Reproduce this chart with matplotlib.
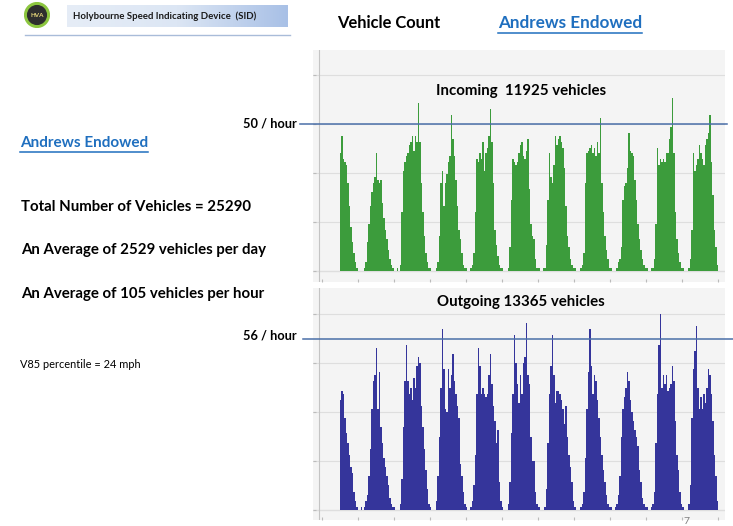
import matplotlib
matplotlib.use("Agg")
import matplotlib.pyplot as plt
from matplotlib.lines import Line2D
from matplotlib.patches import Circle
from matplotlib.colors import LinearSegmentedColormap
import numpy as np

# hourly vehicle counts (day 0 starts at 12:00)
first_hour = 12

incoming_day0 = [40, 46, 38, 37, 36, 30, 22, 15, 10, 6, 3, 1]
incoming_day1 = [0, 0, 0, 0, 1, 3, 10, 16, 22, 27, 30, 32, 40, 31, 30, 31, 23, 18, 14, 11, 7, 4, 2, 1]
incoming_day2 = [0, 0, 1, 0, 2, 20, 34, 37, 39, 40, 43, 44, 46, 41, 46, 44, 57, 44, 30, 20, 12, 6, 3, 1]
incoming_day3 = [1, 0, 0, 0, 1, 3, 12, 30, 34, 22, 30, 33, 37, 39, 53, 45, 39, 31, 22, 14, 11, 6, 2, 1]
incoming_day4 = [1, 0, 0, 1, 2, 6, 20, 38, 37, 40, 38, 44, 34, 40, 42, 46, 55, 44, 30, 14, 9, 5, 2, 1]
incoming_day5 = [1, 0, 0, 0, 1, 8, 24, 38, 37, 36, 37, 40, 43, 44, 39, 38, 41, 45, 28, 16, 12, 11, 4, 1]
incoming_day6 = [1, 0, 0, 1, 1, 9, 24, 40, 32, 30, 36, 46, 43, 45, 46, 44, 42, 35, 22, 12, 8, 4, 2, 1]
incoming_day7 = [1, 0, 0, 0, 1, 2, 6, 30, 40, 41, 42, 43, 40, 42, 39, 44, 40, 52, 30, 20, 12, 7, 4, 1]
incoming_day8 = [1, 0, 0, 0, 1, 3, 4, 8, 24, 29, 30, 35, 47, 41, 40, 39, 31, 24, 16, 11, 7, 4, 2, 1]
incoming_day9 = [1, 0, 0, 1, 1, 4, 16, 42, 36, 38, 37, 38, 37, 40, 40, 45, 49, 59, 40, 20, 11, 6, 3, 1]
incoming_day10 = [1, 0, 0, 0, 1, 4, 14, 40, 34, 36, 38, 43, 40, 38, 36, 43, 45, 47, 53, 37, 26, 14, 8, 2]

outgoing_day0 = [36, 39, 38, 30, 25, 22, 18, 14, 12, 6, 3, 1]
outgoing_day1 = [0, 0, 1, 0, 1, 3, 5, 11, 20, 33, 42, 44, 53, 33, 45, 27, 22, 17, 14, 11, 8, 4, 2, 1]
outgoing_day2 = [1, 0, 0, 0, 2, 10, 27, 42, 54, 42, 38, 40, 36, 43, 40, 47, 50, 48, 34, 27, 20, 13, 7, 2]
outgoing_day3 = [1, 0, 0, 0, 3, 11, 24, 40, 59, 46, 33, 32, 46, 40, 44, 51, 42, 38, 34, 30, 15, 11, 6, 2]
outgoing_day4 = [1, 0, 0, 1, 3, 8, 18, 38, 53, 47, 38, 40, 38, 37, 38, 44, 51, 41, 34, 29, 22, 26, 9, 3]
outgoing_day5 = [1, 0, 0, 0, 2, 9, 25, 38, 57, 48, 41, 35, 44, 38, 48, 50, 61, 44, 41, 24, 16, 16, 6, 2]
outgoing_day6 = [1, 0, 0, 0, 1, 7, 22, 38, 47, 57, 44, 35, 39, 39, 38, 36, 33, 28, 34, 24, 18, 14, 9, 3]
outgoing_day7 = [1, 0, 0, 0, 1, 2, 6, 17, 33, 45, 59, 47, 38, 44, 42, 36, 30, 24, 18, 13, 9, 5, 2, 1]
outgoing_day8 = [1, 0, 0, 1, 2, 5, 11, 24, 33, 37, 40, 45, 42, 36, 32, 29, 26, 24, 21, 13, 9, 4, 2, 1]
outgoing_day9 = [1, 0, 0, 1, 2, 6, 22, 38, 54, 64, 40, 44, 41, 44, 39, 40, 41, 47, 42, 29, 18, 13, 6, 2]
outgoing_day10 = [1, 0, 0, 0, 2, 8, 30, 46, 52, 60, 40, 33, 37, 33, 38, 35, 40, 46, 44, 38, 29, 18, 11, 3]

incoming_days = [incoming_day0, incoming_day1, incoming_day2, incoming_day3, incoming_day4,
                 incoming_day5, incoming_day6, incoming_day7, incoming_day8, incoming_day9,
                 incoming_day10]
outgoing_days = [outgoing_day0, outgoing_day1, outgoing_day2, outgoing_day3, outgoing_day4,
                 outgoing_day5, outgoing_day6, outgoing_day7, outgoing_day8, outgoing_day9,
                 outgoing_day10]

incoming_title = "Incoming  11925 vehicles"
outgoing_title = "Outgoing 13365 vehicles"
incoming_limit = 50
outgoing_limit = 56

summary_lines = ["Total Number of Vehicles = 25290",
                 "An Average of 2529 vehicles per day",
                 "An Average of 105 vehicles per hour"]

W, H = 733, 526
plt.rcParams["font.family"] = ["Lato", "DejaVu Sans"]

fig = plt.figure(figsize=(W / 100, H / 100), dpi=100)
fig.patch.set_facecolor("white")


def fx(px):
    return px / W


def fy(py):
    return 1 - py / H


def put(px, py, s, **kw):
    kw.setdefault("va", "center")
    return fig.text(fx(px), fy(py), s, **kw)


def underline(t, color, gap=2):
    r = fig.canvas.get_renderer()
    bb = t.get_window_extent(r)
    y = bb.y0 - gap
    fig.add_artist(Line2D([bb.x0 / W, bb.x1 / W], [y / H, y / H], color=color, lw=1.1))


def panel(rect, days, color, title, title_y, limit, step, ylim, line_x):
    ax = fig.add_axes(rect)
    values = np.concatenate(days)
    hours = np.arange(first_hour, first_hour + len(values))
    ax.set_facecolor("#f4f4f4")
    ax.bar(hours, values, width=1.0, align="edge", color=color, linewidth=0)
    ax.set_xlim(-5.8, 268.5)
    ax.set_ylim(*ylim)
    ax.set_yticks(np.arange(0, ylim[1], step))
    ax.set_xticks(np.arange(0, 265, 24))
    ax.tick_params(labelleft=False, labelbottom=False, length=2, color="#bbbbbb",
                   direction="in")
    ax.grid(axis="y", color="#dedede", lw=0.8)
    ax.set_axisbelow(True)
    for s in ax.spines.values():
        s.set_visible(False)
    ax.axhline(0, color="#c4c4c4", lw=0.8, zorder=0.5)
    ax.axvline(-1.8, color="#c4c4c4", lw=0.8)
    x0 = (line_x[0] - rect[0] * W) / (rect[2] * W)
    x1 = (line_x[1] - rect[0] * W) / (rect[2] * W)
    ax.axhline(limit, xmin=x0, xmax=x1, color="#4a6fa8", lw=1.1, clip_on=False, zorder=5)
    put(521, title_y, title, ha="center", fontsize=10.8, fontweight="bold")
    return ax


panel([fx(313), fy(282), 412 / W, 232 / H], incoming_days, "#3c9c3c",
      incoming_title, 91, incoming_limit, 50 / 3, (-3.74, 75.2), (300, 727))
panel([fx(313), fy(520), 412 / W, 232 / H], outgoing_days, "#35359b",
      outgoing_title, 302, outgoing_limit, 16, (-3.27, 72.5), (303, 733))

put(297, 124, f"{incoming_limit} / hour", ha="right", fontsize=9.2, fontweight="bold")
put(297, 335, f"{outgoing_limit} / hour", ha="right", fontsize=9.2, fontweight="bold")

# header
logo = fig.add_axes([fx(24), fy(28), 26 / W, 26 / H])
logo.set_xlim(-1, 1)
logo.set_ylim(-1, 1)
logo.axis("off")
logo.add_patch(Circle((0, 0), 0.95, color="#8cc63f"))
logo.add_patch(Circle((0, 0), 0.72, color="#2e2e2e"))
logo.text(0, -0.05, "HVA", ha="center", va="center", fontsize=4.5, color="#e8d87a",
          fontweight="bold")

band = fig.add_axes([fx(67), fy(27), 221 / W, 22 / H])
grad = np.linspace(0, 1, 256).reshape(1, -1)
cmap = LinearSegmentedColormap.from_list("band", ["#e6edf7", "#dce6f4", "#a8c0e6"])
band.imshow(grad, aspect="auto", cmap=cmap, extent=(0, 1, 0, 1))
band.axis("off")
put(73, 16, "Holybourne Speed Indicating Device  (SID)", fontsize=6.9, fontweight="bold",
    color="#1a1a1a")
fig.add_artist(Line2D([fx(25), fx(290)], [fy(35), fy(35)], color="#a9bcd9", lw=1))

put(337, 23, "Vehicle Count", fontsize=11.9, fontweight="bold")
t = put(498, 23, "Andrews Endowed", fontsize=12.3, fontweight="bold", color="#1f6fbf")
underline(t, "#1f6fbf")

t = put(20, 143, "Andrews Endowed", fontsize=11, fontweight="bold", color="#1f6fbf")
underline(t, "#1f6fbf")

for py, s in zip([207, 250, 294], summary_lines):
    put(21, py, s, fontsize=10.8, fontweight="bold")

put(20, 364, "V85 percentile = 24 mph", fontsize=7.9)
put(683, 521, "7", fontsize=7.5, color="#7f7f7f")

fig.savefig("out.png", dpi=100)
